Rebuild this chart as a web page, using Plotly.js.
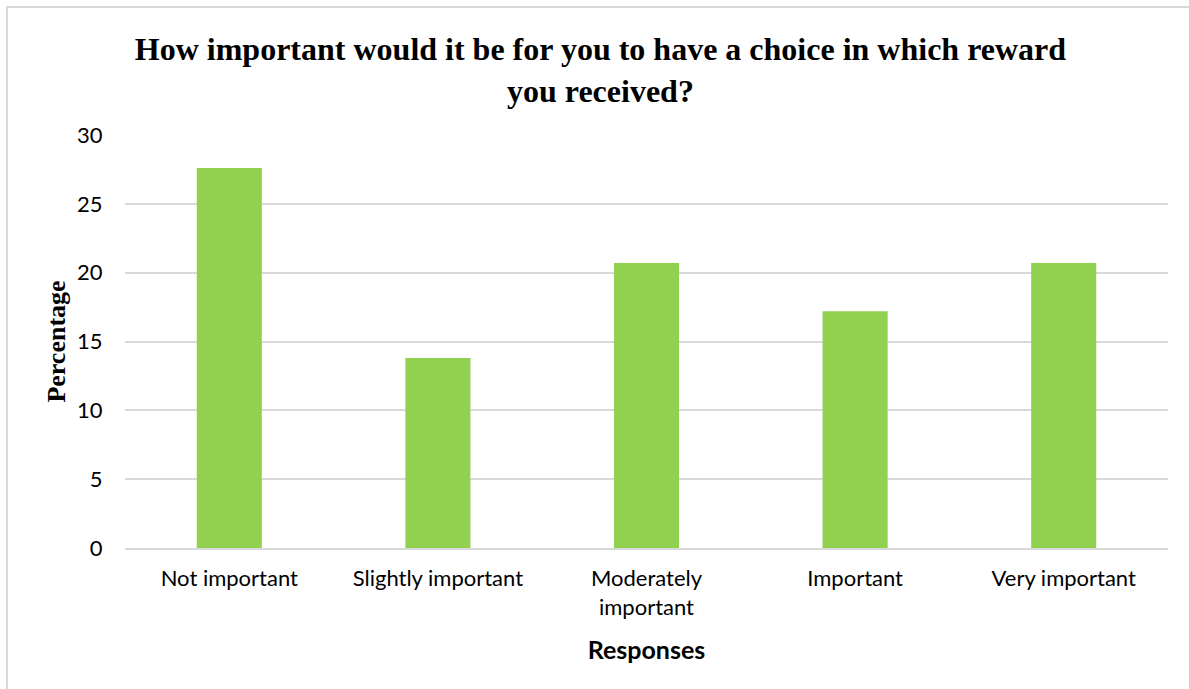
<!DOCTYPE html>
<html>
<head>
<meta charset="utf-8">
<script src="https://cdn.plot.ly/plotly-3.0.1.min.js"></script>
<style>
html,body{margin:0;padding:0;background:#fff;}
#chart{width:1189px;height:689px;position:relative;}
#frame{position:absolute;left:6px;top:6px;width:1300px;height:800px;border-left:2px solid #D9D9D9;border-top:2px solid #D9D9D9;pointer-events:none;}
#wrap{position:relative;width:1189px;height:689px;overflow:hidden;}
</style>
</head>
<body>
<div id="wrap"><div id="chart"></div><div id="frame"></div></div>
<script>
const categories = ["Not important", "Slightly important", "Moderately<br>important", "Important", "Very important"];
const percentages = [27.6, 13.8, 20.7, 17.2, 20.7];
const yTicks = [0, 5, 10, 15, 20, 25, 30];

const sans = 'Lato, Open Sans, sans-serif';
const serif = 'Liberation Serif, Times New Roman, serif';

const trace = {
  type: 'bar',
  x: categories,
  y: percentages,
  marker: {color: '#92D050'},
  hoverinfo: 'x+y'
};

const layout = {
  width: 1189,
  height: 689,
  margin: {l: 125, r: 21, t: 135, b: 141},
  paper_bgcolor: '#ffffff',
  plot_bgcolor: '#ffffff',
  bargap: 0.688,
  showlegend: false,
  title: {
    text: '<b>How important would it be for you to have a choice in which reward<br>you received?</b>',
    font: {family: serif, size: 32, color: '#000'},
    x: 0.505, xref: 'container', xanchor: 'center',
    y: 0.913, yref: 'container', yanchor: 'top'
  },
  xaxis: {
    type: 'category',
    showgrid: false,
    showline: true,
    linecolor: '#D9D9D9',
    linewidth: 2,
    ticks: 'outside',
    ticklen: 10,
    tickcolor: 'rgba(0,0,0,0)',
    tickfont: {family: sans, size: 22, color: '#000'},
    title: {text: '<b>Responses</b>', font: {family: sans, size: 25, color: '#000'}, standoff: 22}
  },
  yaxis: {
    range: [0, 30],
    tickvals: yTicks,
    ticktext: yTicks.map(String),
    showgrid: true,
    gridcolor: '#D9D9D9',
    gridwidth: 2,
    zeroline: false,
    showline: false,
    ticks: 'outside',
    ticklen: 17,
    tickcolor: 'rgba(0,0,0,0)',
    tickfont: {family: sans, size: 22, color: '#000'},
    title: {text: '<b>Percentage</b>', font: {family: serif, size: 26, color: '#000'}, standoff: 3}
  }
};

Plotly.newPlot('chart', [trace], layout, {displayModeBar: false});
</script>
</body>
</html>
